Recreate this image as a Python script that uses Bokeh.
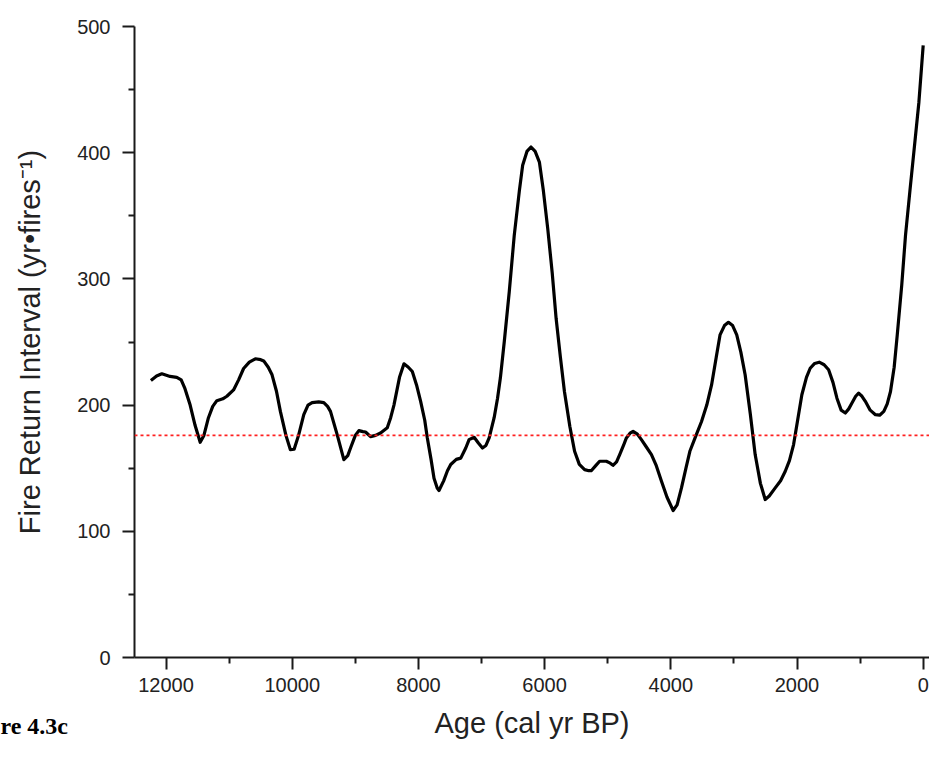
from bokeh.plotting import figure
from bokeh.models import Range1d, FixedTicker, Span, Label
from bokeh.embed import file_html
from bokeh.resources import INLINE

# ---- data ----
age = [12240, 12150, 12067, 11936, 11830, 11760, 11700, 11618, 11540, 11459,
       11400, 11328, 11260, 11195, 11100, 11036, 10930, 10850, 10771, 10680,
       10585, 10500, 10452, 10380, 10320, 10250, 10188, 10100, 10029, 9970,
       9900, 9817, 9750, 9685, 9580, 9500, 9440, 9394, 9288, 9182,
       9120, 9076, 9000, 8944, 8880, 8838, 8759, 8680, 8600, 8494,
       8440, 8388, 8300, 8229, 8160, 8097, 8030, 7965, 7900, 7859,
       7800, 7753, 7700, 7674, 7600, 7540, 7488, 7400, 7329, 7250,
       7197, 7117, 7050, 6985, 6930, 6879, 6800, 6746, 6700, 6640,
       6560, 6481, 6400, 6348, 6280, 6216, 6150, 6083, 6020, 5951,
       5880, 5818, 5750, 5686, 5600, 5525, 5450, 5366, 5300, 5261,
       5190, 5128, 5022, 4960, 4916, 4860, 4810, 4750, 4704, 4640,
       4598, 4530, 4466, 4390, 4307, 4230, 4148, 4060, 3963, 3900,
       3831, 3760, 3698, 3600, 3513, 3430, 3354, 3280, 3220, 3150,
       3087, 3020, 2955, 2890, 2822, 2740, 2663, 2580, 2504, 2440,
       2345, 2260, 2186, 2120, 2054, 1990, 1923, 1850, 1791, 1720,
       1648, 1570, 1499, 1430, 1367, 1300, 1234, 1180, 1129, 1070,
       1023, 970, 917, 840, 757, 690, 624, 570, 518, 460,
       411, 340, 280, 210, 148, 68, 0]
fri = [219.5, 223, 224.8, 222.7, 222, 220, 213, 200, 184, 170.5,
       176, 190, 199, 203.5, 205, 207, 212, 220, 229, 234,
       236.7, 236, 235, 230, 224, 211, 195, 176, 164.7, 165,
       176, 192.4, 200, 202, 202.5, 202, 199, 195, 176.6, 156.8,
       160, 166, 176, 179.8, 179, 178.7, 175, 176, 177.9, 182,
       190, 200, 222, 232.7, 230, 226.6, 216, 203, 188, 174,
       157, 142, 134, 132.3, 140, 148, 152.9, 157, 158, 166,
       172.6, 174.5, 170, 166, 168, 174, 190, 205.5, 222, 250,
       290, 334.7, 370, 390, 401, 404.5, 401, 392.6, 370, 340,
       305, 268.8, 238, 210.8, 183, 163.4, 153, 148.9, 148, 148,
       152, 155.5, 155.5, 154, 152.3, 155, 160.8, 168, 174, 178,
       179.2, 177, 172.6, 167, 160.8, 152, 139.7, 127, 116.5, 121,
       134.4, 150, 163.4, 176, 187, 200, 216, 238, 255.6, 263,
       265.6, 263, 255.6, 242, 224, 193, 160.8, 138, 125.2, 128,
       134.4, 140, 147.6, 156, 168.7, 188, 208.2, 222, 229.2, 233,
       234, 232, 228, 218, 205.5, 196, 193.7, 197, 201.6, 207,
       209.5, 207, 203, 196, 192.4, 192, 195, 201, 210.8, 230,
       255.6, 295, 334.7, 370, 400.5, 440, 485]
mean_fri = 176
x_ticks = [0, 2000, 4000, 6000, 8000, 10000, 12000]
x_minor = [1000, 3000, 5000, 7000, 9000, 11000]
y_ticks = [0, 100, 200, 300, 400, 500]
y_minor = [50, 150, 250, 350, 450]
x_title = "Age (cal yr BP)"
y_title = "Fire Return Interval (yr\u2022fires\u207b\u00b9)"
fig_label = "re 4.3c"

FONT = "Liberation Sans"
AXIS_COLOR = "#1a1a1a"

p = figure(width=929, height=759, output_backend="svg", toolbar_location=None,
           x_range=Range1d(12500, -100), y_range=Range1d(0, 500),
           min_border_left=134, min_border_right=0, min_border_top=0,
           min_border_bottom=102)
p.outline_line_color = None
p.background_fill_color = "white"
p.border_fill_color = "white"
p.xgrid.visible = False
p.ygrid.visible = False

p.line(age, fri, line_color="black", line_width=3.2, line_join="round")
p.add_layout(Span(location=mean_fri, dimension="width", line_color="#ff2020",
                  line_width=1.6, line_dash="3 3"))

for ax in (p.xaxis[0], p.yaxis[0]):
    ax.axis_line_color = AXIS_COLOR
    ax.axis_line_width = 2
    ax.major_tick_line_color = AXIS_COLOR
    ax.major_tick_line_width = 2
    ax.minor_tick_line_color = AXIS_COLOR
    ax.minor_tick_line_width = 2
    ax.major_tick_in = 0
    ax.major_tick_out = 12
    ax.minor_tick_in = 0
    ax.minor_tick_out = 6
    ax.major_label_text_font = FONT
    ax.major_label_text_font_size = "20px"
    ax.major_label_text_color = "#222222"
    ax.axis_label_text_font = FONT
    ax.axis_label_text_font_size = "29px"
    ax.axis_label_text_font_style = "normal"
    ax.axis_label_text_color = "#222222"

p.xaxis[0].ticker = FixedTicker(ticks=x_ticks, minor_ticks=x_minor)
p.yaxis[0].ticker = FixedTicker(ticks=y_ticks, minor_ticks=y_minor)
p.xaxis[0].axis_label = x_title
p.yaxis[0].axis_label = y_title
p.xaxis[0].major_label_standoff = 8
p.xaxis[0].axis_label_standoff = 12
p.yaxis[0].major_label_standoff = 12
p.yaxis[0].axis_label_standoff = 28

# figure caption fragment, placed from the top panel (side-panel labels are not clipped)
p.add_layout(Label(x=-134, y=-699, x_units="screen", y_units="screen",
                   text=fig_label, text_font="Liberation Serif",
                   text_font_style="bold", text_font_size="24px",
                   text_color="black", text_baseline="alphabetic"), "above")

open("out.html", "w").write(file_html(p, INLINE))
